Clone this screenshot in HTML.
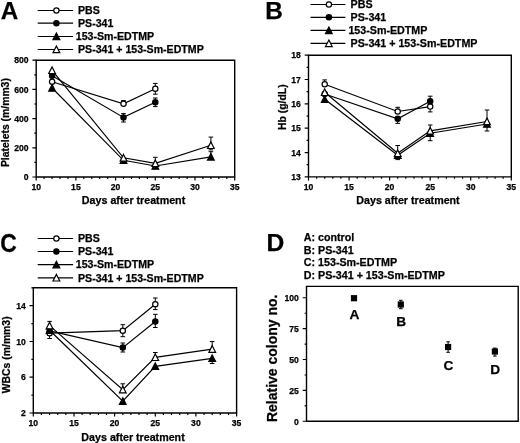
<!DOCTYPE html>
<html><head><meta charset="utf-8"><title>Figure</title>
<style>
html,body{margin:0;padding:0;background:#fff;}
body{width:520px;height:443px;overflow:hidden;font-family:"Liberation Sans",sans-serif;}
svg{display:block;filter:grayscale(1);}
svg text{font-family:"Liberation Sans",sans-serif;font-weight:bold;fill:#000;stroke:#000;stroke-width:0.25px;}
</style></head><body>
<svg width="520" height="443" viewBox="0 0 520 443">
<rect width="520" height="443" fill="#fff"/>

<g id="panelA">
<text x="0.7" y="19.3" font-size="24.2" text-anchor="start" >A</text>
<path d="M37.7 10.5H73.1" stroke="#000" stroke-width="1.2"/><circle cx="56.4" cy="10.5" r="2.65" fill="#fff" stroke="#000" stroke-width="1.2"/><text x="78" y="14.2" font-size="10.6" text-anchor="start" >PBS</text><path d="M37.7 23.2H73.1" stroke="#000" stroke-width="1.2"/><circle cx="56.4" cy="23.2" r="2.65" fill="#000" stroke="#000" stroke-width="1.2"/><text x="78" y="26.9" font-size="10.6" text-anchor="start" >PS-341</text><path d="M37.7 36.5H73.1" stroke="#000" stroke-width="1.2"/><path d="M56.4 33.1L59.8 39.7L53.0 39.7Z" fill="#000" stroke="#000" stroke-width="1.2" stroke-linejoin="miter"/><text x="75.8" y="40.2" font-size="10.6" text-anchor="start" >153-Sm-EDTMP</text><path d="M37.7 49.5H73.1" stroke="#000" stroke-width="1.2"/><path d="M56.4 46.1L59.8 52.7L53.0 52.7Z" fill="#fff" stroke="#000" stroke-width="1.2" stroke-linejoin="miter"/><text x="78" y="53.2" font-size="10.6" text-anchor="start" >PS-341 + 153-Sm-EDTMP</text>
<path d="M36.2 60.2H234.7V177H36.2Z" fill="none" stroke="#000" stroke-width="1.4"/><path d="M36.2 177v3.6M75.9 177v3.6M115.6 177v3.6M155.3 177v3.6M195.0 177v3.6M234.7 177v3.6M44.1 177v1.9M52.1 177v1.9M60.0 177v1.9M68.0 177v1.9M83.8 177v1.9M91.8 177v1.9M99.7 177v1.9M107.7 177v1.9M123.5 177v1.9M131.5 177v1.9M139.4 177v1.9M147.4 177v1.9M163.2 177v1.9M171.2 177v1.9M179.1 177v1.9M187.1 177v1.9M202.9 177v1.9M210.9 177v1.9M218.8 177v1.9M226.8 177v1.9M36.2 177.0h-3.8M36.2 147.8h-3.8M36.2 118.6h-3.8M36.2 89.4h-3.8M36.2 60.2h-3.8M36.2 162.4h-1.9M36.2 133.2h-1.9M36.2 104.0h-1.9M36.2 74.8h-1.9" fill="none" stroke="#000" stroke-width="1.2"/><text x="36.2" y="190.3" font-size="8.6" text-anchor="middle" stroke="#000" stroke-width="0.5">10</text><text x="75.9" y="190.3" font-size="8.6" text-anchor="middle" stroke="#000" stroke-width="0.5">15</text><text x="115.6" y="190.3" font-size="8.6" text-anchor="middle" stroke="#000" stroke-width="0.5">20</text><text x="155.3" y="190.3" font-size="8.6" text-anchor="middle" stroke="#000" stroke-width="0.5">25</text><text x="195.0" y="190.3" font-size="8.6" text-anchor="middle" stroke="#000" stroke-width="0.5">30</text><text x="234.7" y="190.3" font-size="8.6" text-anchor="middle" stroke="#000" stroke-width="0.5">35</text><text x="28.6" y="180.2" font-size="8.6" text-anchor="end" stroke="#000" stroke-width="0.5">0</text><text x="28.6" y="151.0" font-size="8.6" text-anchor="end" stroke="#000" stroke-width="0.5">200</text><text x="28.6" y="121.8" font-size="8.6" text-anchor="end" stroke="#000" stroke-width="0.5">400</text><text x="28.6" y="92.6" font-size="8.6" text-anchor="end" stroke="#000" stroke-width="0.5">600</text><text x="28.6" y="63.4" font-size="8.6" text-anchor="end" stroke="#000" stroke-width="0.5">800</text>
<text x="133.54999999999998" y="204" font-size="10.7" text-anchor="middle" >Days after treatment</text>
<text transform="translate(8.5 122.6) rotate(-90)" font-size="10.4" text-anchor="middle">Platelets (m/mm3)</text>
<path d="M52.1 81.8L123.5 103.8L155.3 88.8" fill="none" stroke="#000" stroke-width="1.2"/><path d="M52.1 75.8L123.5 117.4L155.3 102.3" fill="none" stroke="#000" stroke-width="1.2"/><path d="M52.1 88.0L123.5 160.3L155.3 166.0L210.9 156.9" fill="none" stroke="#000" stroke-width="1.2"/><path d="M52.1 70.3L123.5 157.8L155.3 163.3L210.9 145.3" fill="none" stroke="#000" stroke-width="1.2"/><path d="M123.5 103.8V100.6M121.2 100.6H125.8" fill="none" stroke="#000" stroke-width="1"/><path d="M155.3 88.8V83.4M153.0 83.4H157.6M155.3 88.8V94.2M153.0 94.2H157.6" fill="none" stroke="#000" stroke-width="1"/><path d="M123.5 117.4V113.6M121.2 113.6H125.8M123.5 117.4V122.0M121.2 122.0H125.8" fill="none" stroke="#000" stroke-width="1"/><path d="M155.3 102.3V98.0M153.0 98.0H157.6M155.3 102.3V106.6M153.0 106.6H157.6" fill="none" stroke="#000" stroke-width="1"/><path d="M210.9 156.9V151.7M208.6 151.7H213.2" fill="none" stroke="#000" stroke-width="1"/><path d="M155.3 163.3V157.3M153.0 157.3H157.6" fill="none" stroke="#000" stroke-width="1"/><path d="M210.9 145.3V137.1M208.6 137.1H213.2M210.9 145.3V149.9M208.6 149.9H213.2" fill="none" stroke="#000" stroke-width="1"/><circle cx="52.1" cy="81.8" r="2.65" fill="#fff" stroke="#000" stroke-width="1.2"/><circle cx="123.5" cy="103.8" r="2.65" fill="#fff" stroke="#000" stroke-width="1.2"/><circle cx="155.3" cy="88.8" r="2.65" fill="#fff" stroke="#000" stroke-width="1.2"/><circle cx="52.1" cy="75.8" r="2.65" fill="#000" stroke="#000" stroke-width="1.2"/><circle cx="123.5" cy="117.4" r="2.65" fill="#000" stroke="#000" stroke-width="1.2"/><circle cx="155.3" cy="102.3" r="2.65" fill="#000" stroke="#000" stroke-width="1.2"/><path d="M52.1 84.6L55.4 91.2L48.7 91.2Z" fill="#000" stroke="#000" stroke-width="1.2" stroke-linejoin="miter"/><path d="M123.5 156.9L126.9 163.5L120.2 163.5Z" fill="#000" stroke="#000" stroke-width="1.2" stroke-linejoin="miter"/><path d="M155.3 162.6L158.7 169.2L152.0 169.2Z" fill="#000" stroke="#000" stroke-width="1.2" stroke-linejoin="miter"/><path d="M210.9 153.5L214.2 160.1L207.5 160.1Z" fill="#000" stroke="#000" stroke-width="1.2" stroke-linejoin="miter"/><path d="M52.1 66.9L55.4 73.5L48.7 73.5Z" fill="#fff" stroke="#000" stroke-width="1.2" stroke-linejoin="miter"/><path d="M123.5 154.4L126.9 161.0L120.2 161.0Z" fill="#fff" stroke="#000" stroke-width="1.2" stroke-linejoin="miter"/><path d="M155.3 159.9L158.7 166.5L152.0 166.5Z" fill="#fff" stroke="#000" stroke-width="1.2" stroke-linejoin="miter"/><path d="M210.9 141.9L214.2 148.5L207.5 148.5Z" fill="#fff" stroke="#000" stroke-width="1.2" stroke-linejoin="miter"/>
</g>
<g id="panelB">
<text x="265.3" y="18.7" font-size="24.4" text-anchor="start" >B</text>
<path d="M310.5 4.5H345.4" stroke="#000" stroke-width="1.2"/><circle cx="328.9" cy="4.5" r="2.65" fill="#fff" stroke="#000" stroke-width="1.2"/><text x="350.6" y="8.2" font-size="10.7" text-anchor="start" >PBS</text><path d="M310.5 17.3H345.4" stroke="#000" stroke-width="1.2"/><circle cx="328.9" cy="17.3" r="2.65" fill="#000" stroke="#000" stroke-width="1.2"/><text x="350.6" y="21.0" font-size="10.7" text-anchor="start" >PS-341</text><path d="M310.5 30.4H345.4" stroke="#000" stroke-width="1.2"/><path d="M328.9 27.0L332.2 33.6L325.5 33.6Z" fill="#000" stroke="#000" stroke-width="1.2" stroke-linejoin="miter"/><text x="348.40000000000003" y="34.1" font-size="10.7" text-anchor="start" >153-Sm-EDTMP</text><path d="M310.5 43.4H345.4" stroke="#000" stroke-width="1.2"/><path d="M328.9 40.0L332.2 46.6L325.5 46.6Z" fill="#fff" stroke="#000" stroke-width="1.2" stroke-linejoin="miter"/><text x="350.6" y="47.1" font-size="10.7" text-anchor="start" >PS-341 + 153-Sm-EDTMP</text>
<path d="M308.5 55.2H511.3V176.9H308.5Z" fill="none" stroke="#000" stroke-width="1.4"/><path d="M308.5 176.9v3.6M349.1 176.9v3.6M389.6 176.9v3.6M430.2 176.9v3.6M470.7 176.9v3.6M511.3 176.9v3.6M316.6 176.9v1.9M324.7 176.9v1.9M332.8 176.9v1.9M340.9 176.9v1.9M357.2 176.9v1.9M365.3 176.9v1.9M373.4 176.9v1.9M381.5 176.9v1.9M397.7 176.9v1.9M405.8 176.9v1.9M414.0 176.9v1.9M422.1 176.9v1.9M438.3 176.9v1.9M446.4 176.9v1.9M454.5 176.9v1.9M462.6 176.9v1.9M478.9 176.9v1.9M487.0 176.9v1.9M495.1 176.9v1.9M503.2 176.9v1.9M308.5 176.9h-3.8M308.5 152.6h-3.8M308.5 128.2h-3.8M308.5 103.9h-3.8M308.5 79.5h-3.8M308.5 55.2h-3.8M308.5 164.7h-1.9M308.5 140.4h-1.9M308.5 116.1h-1.9M308.5 91.7h-1.9M308.5 67.4h-1.9" fill="none" stroke="#000" stroke-width="1.2"/><text x="308.5" y="190.2" font-size="8.6" text-anchor="middle" stroke="#000" stroke-width="0.5">10</text><text x="349.1" y="190.2" font-size="8.6" text-anchor="middle" stroke="#000" stroke-width="0.5">15</text><text x="389.6" y="190.2" font-size="8.6" text-anchor="middle" stroke="#000" stroke-width="0.5">20</text><text x="430.2" y="190.2" font-size="8.6" text-anchor="middle" stroke="#000" stroke-width="0.5">25</text><text x="470.7" y="190.2" font-size="8.6" text-anchor="middle" stroke="#000" stroke-width="0.5">30</text><text x="511.3" y="190.2" font-size="8.6" text-anchor="middle" stroke="#000" stroke-width="0.5">35</text><text x="300.9" y="180.1" font-size="8.6" text-anchor="end" stroke="#000" stroke-width="0.5">13</text><text x="300.9" y="155.8" font-size="8.6" text-anchor="end" stroke="#000" stroke-width="0.5">14</text><text x="300.9" y="131.4" font-size="8.6" text-anchor="end" stroke="#000" stroke-width="0.5">15</text><text x="300.9" y="107.1" font-size="8.6" text-anchor="end" stroke="#000" stroke-width="0.5">16</text><text x="300.9" y="82.7" font-size="8.6" text-anchor="end" stroke="#000" stroke-width="0.5">17</text><text x="300.9" y="58.4" font-size="8.6" text-anchor="end" stroke="#000" stroke-width="0.5">18</text>
<text x="408.0" y="204" font-size="10.7" text-anchor="middle" >Days after treatment</text>
<text transform="translate(285.8 107.2) rotate(-90)" font-size="10.4" text-anchor="middle">Hb (g/dL)</text>
<path d="M324.7 84.3L397.7 111.5L430.2 106.6" fill="none" stroke="#000" stroke-width="1.2"/><path d="M324.7 94.0L397.7 118.8L430.2 101.2" fill="none" stroke="#000" stroke-width="1.2"/><path d="M324.7 99.3L397.7 155.2L430.2 133.2L487.0 124.0" fill="none" stroke="#000" stroke-width="1.2"/><path d="M324.7 92.3L397.7 153.3L430.2 130.8L487.0 121.5" fill="none" stroke="#000" stroke-width="1.2"/><path d="M324.7 84.3V79.9M322.4 79.9H327.0" fill="none" stroke="#000" stroke-width="1"/><path d="M397.7 111.5V107.3M395.4 107.3H400.0" fill="none" stroke="#000" stroke-width="1"/><path d="M430.2 106.6V111.9M427.9 111.9H432.5" fill="none" stroke="#000" stroke-width="1"/><path d="M397.7 118.8V123.4M395.4 123.4H400.0" fill="none" stroke="#000" stroke-width="1"/><path d="M430.2 101.2V96.2M427.9 96.2H432.5" fill="none" stroke="#000" stroke-width="1"/><path d="M397.7 155.2V159.6M395.4 159.6H400.0" fill="none" stroke="#000" stroke-width="1"/><path d="M430.2 133.2V140.7M427.9 140.7H432.5" fill="none" stroke="#000" stroke-width="1"/><path d="M487.0 124.0V131.0M484.7 131.0H489.3" fill="none" stroke="#000" stroke-width="1"/><path d="M397.7 153.3V145.5M395.4 145.5H400.0" fill="none" stroke="#000" stroke-width="1"/><path d="M430.2 130.8V125.0M427.9 125.0H432.5" fill="none" stroke="#000" stroke-width="1"/><path d="M487.0 121.5V110.0M484.7 110.0H489.3" fill="none" stroke="#000" stroke-width="1"/><circle cx="324.7" cy="84.3" r="2.65" fill="#fff" stroke="#000" stroke-width="1.2"/><circle cx="397.7" cy="111.5" r="2.65" fill="#fff" stroke="#000" stroke-width="1.2"/><circle cx="430.2" cy="106.6" r="2.65" fill="#fff" stroke="#000" stroke-width="1.2"/><circle cx="324.7" cy="94.0" r="2.65" fill="#000" stroke="#000" stroke-width="1.2"/><circle cx="397.7" cy="118.8" r="2.65" fill="#000" stroke="#000" stroke-width="1.2"/><circle cx="430.2" cy="101.2" r="2.65" fill="#000" stroke="#000" stroke-width="1.2"/><path d="M324.7 95.9L328.1 102.5L321.4 102.5Z" fill="#000" stroke="#000" stroke-width="1.2" stroke-linejoin="miter"/><path d="M397.7 151.8L401.1 158.4L394.4 158.4Z" fill="#000" stroke="#000" stroke-width="1.2" stroke-linejoin="miter"/><path d="M430.2 129.8L433.5 136.4L426.8 136.4Z" fill="#000" stroke="#000" stroke-width="1.2" stroke-linejoin="miter"/><path d="M487.0 120.6L490.3 127.2L483.6 127.2Z" fill="#000" stroke="#000" stroke-width="1.2" stroke-linejoin="miter"/><path d="M324.7 88.9L328.1 95.5L321.4 95.5Z" fill="#fff" stroke="#000" stroke-width="1.2" stroke-linejoin="miter"/><path d="M397.7 149.9L401.1 156.5L394.4 156.5Z" fill="#fff" stroke="#000" stroke-width="1.2" stroke-linejoin="miter"/><path d="M430.2 127.4L433.5 134.0L426.8 134.0Z" fill="#fff" stroke="#000" stroke-width="1.2" stroke-linejoin="miter"/><path d="M487.0 118.1L490.3 124.7L483.6 124.7Z" fill="#fff" stroke="#000" stroke-width="1.2" stroke-linejoin="miter"/>
</g>
<g id="panelC">
<text transform="translate(0.15 252.4) scale(0.935 1.067)" font-size="24.5">C</text>
<path d="M37.7 238.5H73.1" stroke="#000" stroke-width="1.2"/><circle cx="56.4" cy="238.5" r="2.65" fill="#fff" stroke="#000" stroke-width="1.2"/><text x="78" y="242.2" font-size="10.6" text-anchor="start" >PBS</text><path d="M37.7 251.5H73.1" stroke="#000" stroke-width="1.2"/><circle cx="56.4" cy="251.5" r="2.65" fill="#000" stroke="#000" stroke-width="1.2"/><text x="78" y="255.2" font-size="10.6" text-anchor="start" >PS-341</text><path d="M37.7 264.6H73.1" stroke="#000" stroke-width="1.2"/><path d="M56.4 261.2L59.8 267.8L53.0 267.8Z" fill="#000" stroke="#000" stroke-width="1.2" stroke-linejoin="miter"/><text x="75.8" y="268.3" font-size="10.6" text-anchor="start" >153-Sm-EDTMP</text><path d="M37.7 277.8H73.1" stroke="#000" stroke-width="1.2"/><path d="M56.4 274.4L59.8 281.0L53.0 281.0Z" fill="#fff" stroke="#000" stroke-width="1.2" stroke-linejoin="miter"/><text x="78" y="281.5" font-size="10.6" text-anchor="start" >PS-341 + 153-Sm-EDTMP</text>
<path d="M33.3 287.8H236.6V413H33.3Z" fill="none" stroke="#000" stroke-width="1.4"/><path d="M33.3 413v3.6M74.0 413v3.6M114.6 413v3.6M155.3 413v3.6M195.9 413v3.6M236.6 413v3.6M41.4 413v1.9M49.6 413v1.9M57.7 413v1.9M65.8 413v1.9M82.1 413v1.9M90.2 413v1.9M98.4 413v1.9M106.5 413v1.9M122.8 413v1.9M130.9 413v1.9M139.0 413v1.9M147.1 413v1.9M163.4 413v1.9M171.5 413v1.9M179.7 413v1.9M187.8 413v1.9M204.1 413v1.9M212.2 413v1.9M220.3 413v1.9M228.5 413v1.9M33.3 413.0h-3.8M33.3 377.2h-3.8M33.3 341.5h-3.8M33.3 305.7h-3.8M33.3 395.1h-1.9M33.3 359.3h-1.9M33.3 323.6h-1.9M33.3 287.8h-1.9" fill="none" stroke="#000" stroke-width="1.2"/><text x="33.3" y="426.3" font-size="8.6" text-anchor="middle" stroke="#000" stroke-width="0.5">10</text><text x="74.0" y="426.3" font-size="8.6" text-anchor="middle" stroke="#000" stroke-width="0.5">15</text><text x="114.6" y="426.3" font-size="8.6" text-anchor="middle" stroke="#000" stroke-width="0.5">20</text><text x="155.3" y="426.3" font-size="8.6" text-anchor="middle" stroke="#000" stroke-width="0.5">25</text><text x="195.9" y="426.3" font-size="8.6" text-anchor="middle" stroke="#000" stroke-width="0.5">30</text><text x="236.6" y="426.3" font-size="8.6" text-anchor="middle" stroke="#000" stroke-width="0.5">35</text><text x="25.7" y="416.2" font-size="8.6" text-anchor="end" stroke="#000" stroke-width="0.5">2</text><text x="25.7" y="380.4" font-size="8.6" text-anchor="end" stroke="#000" stroke-width="0.5">6</text><text x="25.7" y="344.7" font-size="8.6" text-anchor="end" stroke="#000" stroke-width="0.5">10</text><text x="25.7" y="308.9" font-size="8.6" text-anchor="end" stroke="#000" stroke-width="0.5">14</text>
<text x="133.04999999999998" y="440.5" font-size="10.7" text-anchor="middle" >Days after treatment</text>
<text transform="translate(9.6 354.8) rotate(-90)" font-size="10.4" text-anchor="middle">WBCs (m/mm3)</text>
<path d="M49.6 333.2L122.8 330.7L155.3 304.2" fill="none" stroke="#000" stroke-width="1.2"/><path d="M49.6 330.8L122.8 347.6L155.3 321.5" fill="none" stroke="#000" stroke-width="1.2"/><path d="M49.6 330.2L122.8 401.2L155.3 366.3L212.2 358.3" fill="none" stroke="#000" stroke-width="1.2"/><path d="M49.6 325.6L122.8 389.6L155.3 357.3L212.2 349.1" fill="none" stroke="#000" stroke-width="1.2"/><path d="M49.6 333.2V338.5M47.3 338.5H51.9" fill="none" stroke="#000" stroke-width="1"/><path d="M122.8 330.7V324.7M120.5 324.7H125.1M122.8 330.7V336.7M120.5 336.7H125.1" fill="none" stroke="#000" stroke-width="1"/><path d="M155.3 304.2V298.0M153.0 298.0H157.6M155.3 304.2V309.6M153.0 309.6H157.6" fill="none" stroke="#000" stroke-width="1"/><path d="M122.8 347.6V343.0M120.5 343.0H125.1M122.8 347.6V352.0M120.5 352.0H125.1" fill="none" stroke="#000" stroke-width="1"/><path d="M155.3 321.5V314.3M153.0 314.3H157.6M155.3 321.5V327.5M153.0 327.5H157.6" fill="none" stroke="#000" stroke-width="1"/><path d="M212.2 358.3V363.5M209.9 363.5H214.5" fill="none" stroke="#000" stroke-width="1"/><path d="M49.6 325.6V321.4M47.3 321.4H51.9" fill="none" stroke="#000" stroke-width="1"/><path d="M122.8 389.6V383.8M120.5 383.8H125.1" fill="none" stroke="#000" stroke-width="1"/><path d="M155.3 357.3V352.5M153.0 352.5H157.6" fill="none" stroke="#000" stroke-width="1"/><path d="M212.2 349.1V341.6M209.9 341.6H214.5" fill="none" stroke="#000" stroke-width="1"/><circle cx="49.6" cy="333.2" r="2.65" fill="#fff" stroke="#000" stroke-width="1.2"/><circle cx="122.8" cy="330.7" r="2.65" fill="#fff" stroke="#000" stroke-width="1.2"/><circle cx="155.3" cy="304.2" r="2.65" fill="#fff" stroke="#000" stroke-width="1.2"/><circle cx="49.6" cy="330.8" r="2.65" fill="#000" stroke="#000" stroke-width="1.2"/><circle cx="122.8" cy="347.6" r="2.65" fill="#000" stroke="#000" stroke-width="1.2"/><circle cx="155.3" cy="321.5" r="2.65" fill="#000" stroke="#000" stroke-width="1.2"/><path d="M49.6 326.8L52.9 333.4L46.2 333.4Z" fill="#000" stroke="#000" stroke-width="1.2" stroke-linejoin="miter"/><path d="M122.8 397.8L126.1 404.4L119.4 404.4Z" fill="#000" stroke="#000" stroke-width="1.2" stroke-linejoin="miter"/><path d="M155.3 362.9L158.6 369.5L151.9 369.5Z" fill="#000" stroke="#000" stroke-width="1.2" stroke-linejoin="miter"/><path d="M212.2 354.9L215.6 361.5L208.9 361.5Z" fill="#000" stroke="#000" stroke-width="1.2" stroke-linejoin="miter"/><path d="M49.6 322.2L52.9 328.8L46.2 328.8Z" fill="#fff" stroke="#000" stroke-width="1.2" stroke-linejoin="miter"/><path d="M122.8 386.2L126.1 392.8L119.4 392.8Z" fill="#fff" stroke="#000" stroke-width="1.2" stroke-linejoin="miter"/><path d="M155.3 353.9L158.6 360.5L151.9 360.5Z" fill="#fff" stroke="#000" stroke-width="1.2" stroke-linejoin="miter"/><path d="M212.2 345.7L215.6 352.3L208.9 352.3Z" fill="#fff" stroke="#000" stroke-width="1.2" stroke-linejoin="miter"/>
</g>
<g id="panelD">
<text x="266.5" y="250.6" font-size="24.6" text-anchor="start" >D</text>
<text x="303.8" y="241.3" font-size="10.7" text-anchor="start" >A: control</text>
<text x="303.8" y="253.85000000000002" font-size="10.7" text-anchor="start" >B: PS-341</text>
<text x="303.8" y="266.40000000000003" font-size="10.7" text-anchor="start" >C: 153-Sm-EDTMP</text>
<text x="303.8" y="278.95000000000005" font-size="10.7" text-anchor="start" >D: PS-341 + 153-Sm-EDTMP</text>
<path d="M306.5 286.4H518.2V421.3H306.5Z" fill="none" stroke="#000" stroke-width="1.4"/><path d="M306.5 421.3h-3.8M306.5 390.4h-3.8M306.5 359.5h-3.8M306.5 328.6h-3.8M306.5 297.8h-3.8M306.5 405.9h-1.9M306.5 375.0h-1.9M306.5 344.1h-1.9M306.5 313.2h-1.9" fill="none" stroke="#000" stroke-width="1.1"/><text x="298.9" y="424.5" font-size="8.6" text-anchor="end" stroke="#000" stroke-width="0.5">0</text><text x="298.9" y="393.6" font-size="8.6" text-anchor="end" stroke="#000" stroke-width="0.5">25</text><text x="298.9" y="362.7" font-size="8.6" text-anchor="end" stroke="#000" stroke-width="0.5">50</text><text x="298.9" y="331.8" font-size="8.6" text-anchor="end" stroke="#000" stroke-width="0.5">75</text><text x="298.9" y="300.9" font-size="8.6" text-anchor="end" stroke="#000" stroke-width="0.5">100</text>
<text transform="translate(277.2 358.3) rotate(-90)" font-size="14" text-anchor="middle">Relative colony no.</text>
<rect x="350.9" y="295.1" width="6.2" height="6.2" fill="#000"/>
<text x="354.4" y="319.2" font-size="13.7" text-anchor="middle" >A</text>
<path d="M400.8 304.5V300.3M399.0 300.3H402.6M400.8 304.5V308.7M399.0 308.7H402.6" fill="none" stroke="#000" stroke-width="1"/>
<rect x="397.7" y="301.4" width="6.2" height="6.2" fill="#000"/>
<text x="401.2" y="326.4" font-size="13.7" text-anchor="middle" >B</text>
<path d="M448.1 347.0V341.8M446.3 341.8H449.9M448.1 347.0V352.3M446.3 352.3H449.9" fill="none" stroke="#000" stroke-width="1"/>
<rect x="445.0" y="343.9" width="6.2" height="6.2" fill="#000"/>
<text x="448.5" y="370.4" font-size="13.7" text-anchor="middle" >C</text>
<path d="M494.9 351.5V348.1M493.1 348.1H496.7M494.9 351.5V356.1M493.1 356.1H496.7" fill="none" stroke="#000" stroke-width="1"/>
<rect x="491.8" y="348.4" width="6.2" height="6.2" fill="#000"/>
<text x="495.29999999999995" y="373.8" font-size="13.7" text-anchor="middle" >D</text>
</g>
</svg>
</body></html>
